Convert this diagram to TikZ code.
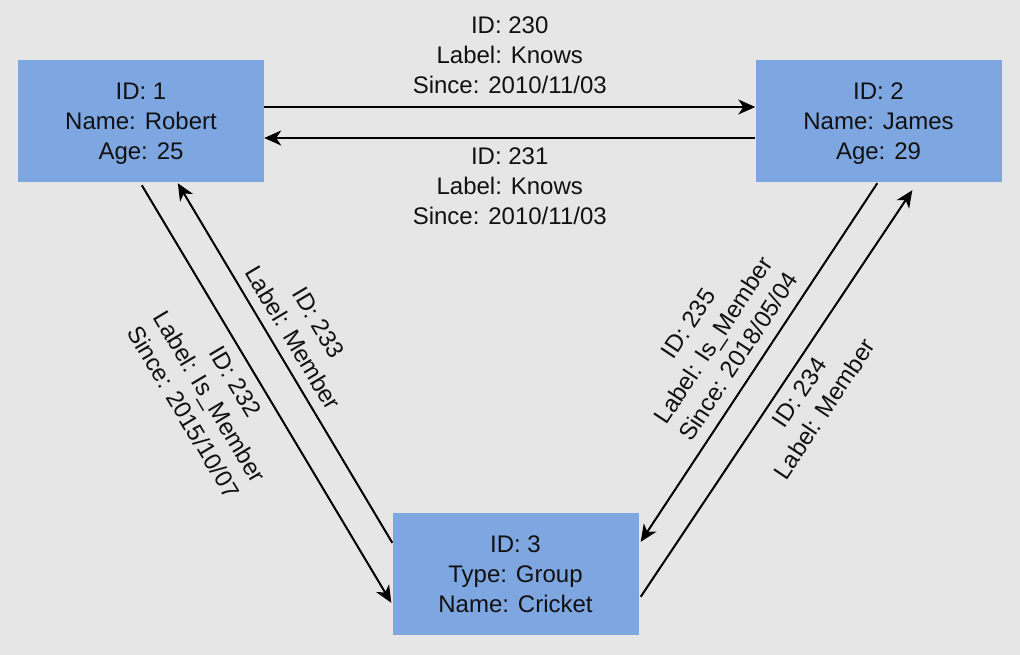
\documentclass[tikz,border=0pt]{standalone}
\usepackage{fontspec}
\setmainfont{Liberation Sans}
\usetikzlibrary{arrows.meta}
\definecolor{bg}{HTML}{E6E6E6}
\definecolor{boxblue}{HTML}{7EA6E0}
\definecolor{ink}{HTML}{111111}
\begin{document}
\begin{tikzpicture}[x=1pt,y=-1pt,
  font=\fontsize{24}{30}\selectfont,
  entity/.style={fill=boxblue, draw=none, minimum width=246pt, minimum height=122pt, align=center, text=ink, inner sep=0pt, text depth=0pt},
  rel/.style={line width=2pt, draw=black, -{Stealth[length=17pt,width=15pt,inset=5pt]}},
  lbl/.style={align=center, text=ink, inner sep=0pt, outer sep=0pt}]
\fill[bg] (0,0) rectangle (1020,655);
\useasboundingbox (0,0) rectangle (1020,655);

\node[entity] (n1) at (141,121) {ID: 1\\Name: Robert\\Age: 25};
\node[entity] (n2) at (878.5,121) {ID: 2\\Name: James\\Age: 29};
\node[entity] (n3) at (515.5,574) {ID: 3\\Type: Group\\Name: Cricket};

% 230
\draw[rel] ([shift={(0,-14)}]n1.east) -- node[lbl, pos=0.5, above=13.5pt] {ID: 230\\Label: Knows\\Since: 2010/11/03} ([shift={(0,-14)}]n2.west);
% 231
\draw[rel] ([shift={(0,17)}]n2.west) -- node[lbl, pos=0.5, below=10pt] {ID: 231\\Label: Knows\\Since: 2010/11/03} ([shift={(0,17)}]n1.east);
% 232
\draw[rel] ([shift={(124,3)}]n1.south west) -- node[lbl, sloped, pos=0.445, below=12pt] {ID: 232\\Label: Is\_Member\\Since: 2015/10/07} ([shift={(-1,90)}]n3.north west);
% 233
\draw[rel] ([shift={(0,30)}]n3.north west) -- node[lbl, sloped, pos=0.542, above=11pt] {ID: 233\\Label: Member} ([shift={(160,1)}]n1.south west);
% 235
\draw[rel] ([shift={(122,1)}]n2.south west) -- node[lbl, sloped, pos=0.515, above=12pt] {ID: 235\\Label: Is\_Member\\Since: 2018/05/04} ([shift={(2,29)}]n3.north east);
% 234
\draw[rel] ([shift={(2,84)}]n3.north east) -- node[lbl, sloped, pos=0.528, below=10pt] {ID: 234\\Label: Member} ([shift={(157,8)}]n2.south west);
\end{tikzpicture}
\end{document}
